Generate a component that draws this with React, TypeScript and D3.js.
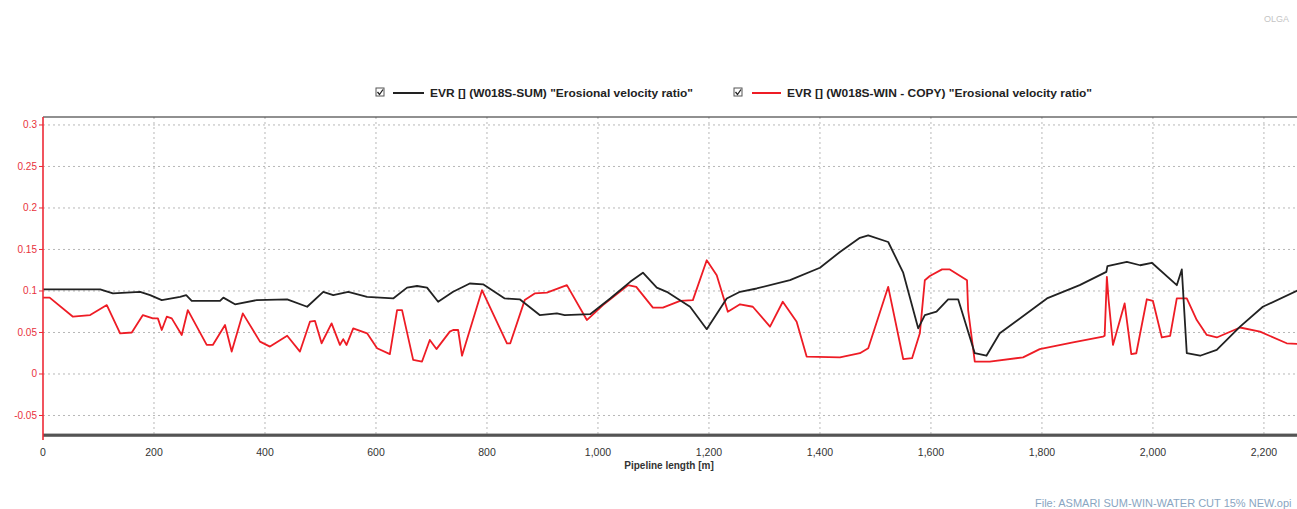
import React, { useEffect, useRef } from 'react'
import * as d3 from 'd3'

// EVR profile along pipeline (W018S-SUM)
const sumLength = [0, 103, 126, 175, 193, 214, 247, 258, 268, 319, 325, 346, 385, 440, 476, 505, 523, 550, 584, 631, 656, 674, 692, 712, 739, 769, 793, 832, 859, 895, 926, 940, 986, 1022, 1058, 1081, 1106, 1124, 1166, 1196, 1232, 1256, 1286, 1346, 1400, 1436, 1472, 1487, 1523, 1550, 1577, 1589, 1610, 1631, 1649, 1679, 1700, 1724, 1809, 1868, 1916, 1918, 1953, 1977, 1998, 2043, 2052, 2061, 2085, 2115, 2157, 2198, 2265]
const sumEvr = [0.102, 0.102, 0.097, 0.099, 0.095, 0.089, 0.093, 0.095, 0.088, 0.088, 0.092, 0.084, 0.089, 0.090, 0.081, 0.099, 0.095, 0.099, 0.093, 0.091, 0.104, 0.106, 0.104, 0.087, 0.099, 0.109, 0.108, 0.091, 0.090, 0.071, 0.073, 0.071, 0.072, 0.091, 0.111, 0.122, 0.104, 0.099, 0.081, 0.054, 0.091, 0.099, 0.103, 0.113, 0.128, 0.147, 0.164, 0.167, 0.159, 0.122, 0.055, 0.071, 0.075, 0.090, 0.090, 0.025, 0.022, 0.049, 0.091, 0.107, 0.123, 0.130, 0.135, 0.131, 0.134, 0.107, 0.126, 0.025, 0.022, 0.029, 0.057, 0.081, 0.102]

// EVR profile along pipeline (W018S-WIN - COPY)
const winLength = [0, 12, 54, 85, 115, 139, 160, 180, 198, 207, 214, 223, 232, 250, 261, 295, 306, 328, 340, 360, 391, 409, 440, 463, 481, 490, 502, 520, 535, 541, 547, 559, 584, 602, 625, 638, 647, 667, 683, 697, 709, 733, 739, 748, 755, 791, 836, 842, 868, 886, 908, 944, 980, 1009, 1054, 1069, 1099, 1117, 1148, 1171, 1196, 1214, 1234, 1256, 1279, 1310, 1333, 1358, 1376, 1436, 1472, 1487, 1523, 1550, 1566, 1580, 1589, 1598, 1620, 1634, 1665, 1667, 1679, 1706, 1766, 1796, 1856, 1910, 1913, 1917, 1920, 1928, 1949, 1961, 1970, 1989, 2000, 2016, 2031, 2043, 2061, 2079, 2097, 2115, 2157, 2193, 2241, 2265]
const winEvr = [0.092, 0.092, 0.069, 0.071, 0.083, 0.049, 0.050, 0.071, 0.067, 0.067, 0.053, 0.069, 0.067, 0.047, 0.077, 0.035, 0.035, 0.059, 0.027, 0.073, 0.039, 0.033, 0.046, 0.027, 0.063, 0.064, 0.037, 0.061, 0.035, 0.042, 0.035, 0.055, 0.049, 0.031, 0.024, 0.077, 0.077, 0.017, 0.015, 0.041, 0.030, 0.051, 0.053, 0.053, 0.022, 0.101, 0.037, 0.037, 0.089, 0.097, 0.098, 0.107, 0.065, 0.083, 0.107, 0.105, 0.080, 0.080, 0.088, 0.089, 0.137, 0.119, 0.075, 0.084, 0.081, 0.057, 0.087, 0.063, 0.021, 0.020, 0.025, 0.031, 0.105, 0.018, 0.019, 0.049, 0.113, 0.118, 0.126, 0.126, 0.113, 0.077, 0.015, 0.015, 0.020, 0.030, 0.038, 0.045, 0.046, 0.117, 0.090, 0.035, 0.085, 0.024, 0.025, 0.090, 0.088, 0.044, 0.046, 0.091, 0.091, 0.065, 0.047, 0.044, 0.056, 0.051, 0.037, 0.036]

const xTicks = [0, 200, 400, 600, 800, 1000, 1200, 1400, 1600, 1800, 2000, 2200]
const yTicks = [0.3, 0.25, 0.2, 0.15, 0.1, 0.05, 0, -0.05]

const legendLabels = [
    'EVR [] (W018S-SUM) "Erosional velocity ratio"',
    'EVR [] (W018S-WIN - COPY) "Erosional velocity ratio"',
]

const App = () => {
    const chartRef = useRef<SVGSVGElement>(null)

    useEffect(() => {
        const width = 1297
        const height = 509
        const margin = { top: 117, right: -3, bottom: 74, left: 43 }

        const svg = d3.select(chartRef.current)
        svg.selectAll('*').remove()
        svg.attr('width', width).attr('height', height)

        const x = d3.scaleLinear()
            .domain([0, 2265])
            .range([margin.left, width - margin.right])

        const y = d3.scaleLinear()
            .domain([-0.0735, 0.3096])
            .range([height - margin.bottom, margin.top])

        const font = "'Liberation Sans', Arial, sans-serif"

        svg.append('defs').append('clipPath')
            .attr('id', 'plot-clip')
            .append('rect')
            .attr('x', margin.left)
            .attr('y', margin.top)
            .attr('width', width - margin.left - margin.right)
            .attr('height', height - margin.top - margin.bottom)

        // grid
        svg.append('g')
            .selectAll('line')
            .data(xTicks.slice(1))
            .enter()
            .append('line')
            .attr('x1', d => x(d))
            .attr('x2', d => x(d))
            .attr('y1', margin.top)
            .attr('y2', height - margin.bottom)
            .attr('stroke', '#b8b8b8')
            .attr('stroke-dasharray', '2,3')

        svg.append('g')
            .selectAll('line')
            .data(yTicks)
            .enter()
            .append('line')
            .attr('x1', margin.left)
            .attr('x2', width)
            .attr('y1', d => y(d))
            .attr('y2', d => y(d))
            .attr('stroke', '#b8b8b8')
            .attr('stroke-dasharray', '2,3')

        // series
        const line = d3.line<[number, number]>()
            .x(d => x(d[0]))
            .y(d => y(d[1]))

        const plot = svg.append('g').attr('clip-path', 'url(#plot-clip)')

        plot.append('path')
            .datum(winLength.map((v, i) => [v, winEvr[i]] as [number, number]))
            .attr('fill', 'none')
            .attr('stroke', '#ee1c25')
            .attr('stroke-width', 1.8)
            .attr('stroke-linejoin', 'round')
            .attr('d', line)

        plot.append('path')
            .datum(sumLength.map((v, i) => [v, sumEvr[i]] as [number, number]))
            .attr('fill', 'none')
            .attr('stroke', '#222')
            .attr('stroke-width', 1.8)
            .attr('stroke-linejoin', 'round')
            .attr('d', line)

        // frame
        svg.append('line')
            .attr('x1', margin.left).attr('x2', width)
            .attr('y1', margin.top).attr('y2', margin.top)
            .attr('stroke', '#222').attr('stroke-width', 1.2)

        svg.append('rect')
            .attr('x', margin.left)
            .attr('y', height - margin.bottom - 1.5)
            .attr('width', width - margin.left)
            .attr('height', 3.5)
            .attr('fill', '#777')
        svg.append('line')
            .attr('x1', margin.left).attr('x2', width)
            .attr('y1', height - margin.bottom).attr('y2', height - margin.bottom)
            .attr('stroke', '#333').attr('stroke-width', 1)

        // y axis (red)
        const yAxis = svg.append('g')
        yAxis.append('line')
            .attr('x1', margin.left).attr('x2', margin.left)
            .attr('y1', margin.top).attr('y2', height - margin.bottom + 5)
            .attr('stroke', '#ee2a36').attr('stroke-width', 1.6)
        yAxis.selectAll('.tick')
            .data(yTicks)
            .enter()
            .append('line')
            .attr('x1', margin.left - 4).attr('x2', margin.left)
            .attr('y1', d => y(d)).attr('y2', d => y(d))
            .attr('stroke', '#ee2a36')
        yAxis.selectAll('text')
            .data(yTicks)
            .enter()
            .append('text')
            .attr('x', margin.left - 6)
            .attr('y', d => y(d) + 3.5)
            .attr('text-anchor', 'end')
            .attr('font-family', font)
            .attr('font-size', 10)
            .attr('fill', '#e8323c')
            .text(d => String(d))

        // x axis
        svg.append('g')
            .selectAll('text')
            .data(xTicks)
            .enter()
            .append('text')
            .attr('x', d => x(d))
            .attr('y', 456)
            .attr('text-anchor', 'middle')
            .attr('font-family', font)
            .attr('font-size', 10.5)
            .attr('fill', '#333')
            .text(d => d3.format(',')(d))

        svg.append('text')
            .attr('x', 669)
            .attr('y', 469)
            .attr('text-anchor', 'middle')
            .attr('font-family', font)
            .attr('font-size', 10)
            .attr('font-weight', 'bold')
            .attr('fill', '#333')
            .text('Pipeline length [m]')

        // legend
        const legendItems = [
            { box: 376, x1: 393, x2: 424, tx: 430, len: 263, color: '#222', label: legendLabels[0] },
            { box: 734, x1: 752, x2: 781, tx: 787, len: 305, color: '#ee1c25', label: legendLabels[1] },
        ]
        const legend = svg.append('g')
        legendItems.forEach(item => {
            const g = legend.append('g')
            g.append('rect')
                .attr('x', item.box).attr('y', 88)
                .attr('width', 8).attr('height', 8)
                .attr('fill', '#fff').attr('stroke', '#555')
            g.append('path')
                .attr('d', `M${item.box + 1.5},${92} L${item.box + 3.5},${94.5} L${item.box + 7},${89.5}`)
                .attr('fill', 'none').attr('stroke', '#222').attr('stroke-width', 1.3)
            g.append('line')
                .attr('x1', item.x1).attr('x2', item.x2)
                .attr('y1', 93).attr('y2', 93)
                .attr('stroke', item.color).attr('stroke-width', 2)
            g.append('text')
                .attr('x', item.tx).attr('y', 96.5)
                .attr('font-family', font)
                .attr('font-size', 10.5)
                .attr('font-weight', 'bold')
                .attr('fill', '#222')
                .attr('textLength', item.len)
                .attr('lengthAdjust', 'spacingAndGlyphs')
                .text(item.label)
        })

        // corner notes
        svg.append('text')
            .attr('x', 1264).attr('y', 22)
            .attr('font-family', font)
            .attr('font-size', 9)
            .attr('fill', '#c4c4c4')
            .text('OLGA')

        svg.append('text')
            .attr('x', 1035).attr('y', 507)
            .attr('font-family', font)
            .attr('font-size', 11)
            .attr('fill', '#8aa6c2')
            .text('File: ASMARI SUM-WIN-WATER CUT 15% NEW.opi')
    }, [])

    return (
        <svg ref={chartRef} style={{ position: 'absolute', top: 0, left: 0, background: '#fff' }} />
    )
}

export default App
